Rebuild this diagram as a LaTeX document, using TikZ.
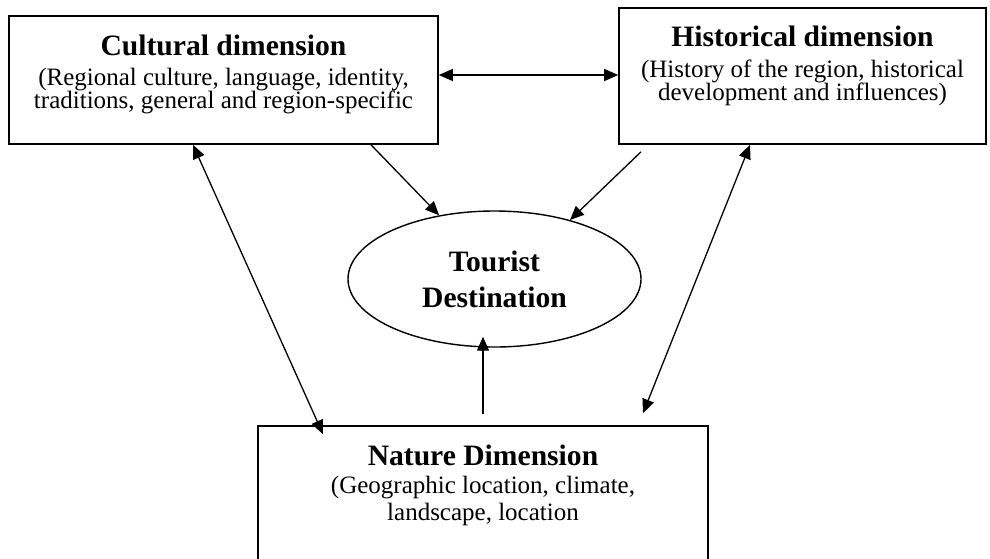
\documentclass[tikz,border=0pt]{standalone}
\usepackage{fontspec}
\setmainfont{Liberation Serif}
\usetikzlibrary{arrows.meta,positioning,shapes.geometric}
\newcommand{\dimtitle}[1]{{\bfseries\fontsize{14.8}{14.8}\selectfont #1}}

\begin{document}
\begin{tikzpicture}[x=0.5pt,y=-0.5pt,
  dimbox/.style={draw, line width=0.8pt, inner sep=0pt},
  dimtext/.style={align=center, inner sep=0pt, font=\fontsize{12.5}{11.5}\selectfont},
  arr/.style={-{Triangle[length=7pt,width=6pt]}, line width=0.65pt},
  dblarr/.style={{Triangle[length=7pt,width=6pt]}-{Triangle[length=7pt,width=6pt]}, line width=0.65pt}]
  \useasboundingbox (0,0) rectangle (990,558);

  % the three dimensions
  \node[dimbox, minimum width=214.5pt, minimum height=64pt] (cult) at (223.5,80) {};
  \node[dimbox, minimum width=183.5pt, minimum height=68pt] (hist) at (802.5,76) {};
  \node[dimbox, minimum width=225pt, minimum height=68pt] (nat) at (483,494) {};

  \node[dimtext, below=9.5pt of cult.north] (culttxt) {\dimtitle{Cultural dimension}\\[3.5pt]
    (Regional culture, language, identity,\\ traditions, general and region-specific};
  \node[dimtext, below=9pt of hist.north] (histtxt) {\dimtitle{Historical dimension}\\[4pt]
    (History of the region, historical\\ development and influences)};
  \node[dimtext, font=\fontsize{12.5}{13.5}\selectfont, below=9.5pt of nat.north] (nattxt) {\dimtitle{Nature Dimension}\\[0.5pt]
    (Geographic location, climate,\\ landscape, location};

  % destination in the middle
  \node[draw, ellipse, line width=0.7pt, minimum width=146.5pt, minimum height=68pt, inner sep=0pt,
    align=center, font=\bfseries\fontsize{14.8}{18}\selectfont] (tour) at (494.5,279) {Tourist\\ Destination};

  \draw[dblarr] ([yshift=2.5pt]cult.east) -- ([yshift=0.5pt]hist.west);
  \draw[arr] ([xshift=73.75pt]cult.south) -- (tour.131);
  \draw[arr] ([xshift=-80.75pt,yshift=-3.5pt]hist.south) -- (tour.38);
  \draw[arr] ([yshift=5.5pt]nat.north) -- ([yshift=5.5pt]nat.north |- tour.south);
  \draw[dblarr] ([xshift=-15.25pt]cult.south) -- ([xshift=-80pt,yshift=-4.5pt]nat.north);
  \draw[dblarr] ([xshift=-26.25pt]hist.south) -- ([xshift=80pt,yshift=6pt]nat.north);
\end{tikzpicture}
\end{document}
